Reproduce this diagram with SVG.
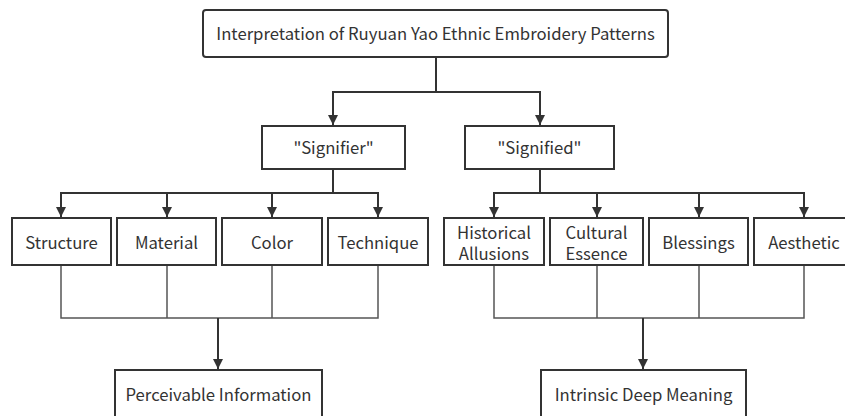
<svg xmlns="http://www.w3.org/2000/svg" width="845" height="416" viewBox="0 0 845 416">
<style>
.box{fill:#fff;stroke:#333;stroke-width:2}
.t{font-family:"Noto Sans CJK SC","Noto Sans",sans-serif;font-size:16.7px;fill:#333;text-anchor:middle;dominant-baseline:central}
.c{fill:none;stroke:#333;stroke-width:2}
.m{fill:none;stroke:#555;stroke-width:1.5}
</style>
<defs>
<marker id="ah" viewBox="0 0 10 10" refX="10" refY="5" markerWidth="5" markerHeight="5" markerUnits="strokeWidth" orient="auto">
<path d="M0,0 L10,5 L0,10 z" fill="#333"/>
</marker>
</defs>
<rect width="845" height="416" fill="#fff"/>
<g id="connectors">
<path class="c" d="M436,57 V92 H333 V125" marker-end="url(#ah)"/>
<path class="c" d="M436,92 H540 V125" marker-end="url(#ah)"/>
<path class="c" d="M333,169 V193 H61 V217" marker-end="url(#ah)"/>
<path class="c" d="M167,193 V217" marker-end="url(#ah)"/>
<path class="c" d="M272,193 V217" marker-end="url(#ah)"/>
<path class="c" d="M333,193 H378 V217" marker-end="url(#ah)"/>
<path class="c" d="M540,169 V193 H494 V217" marker-end="url(#ah)"/>
<path class="c" d="M597,193 V217" marker-end="url(#ah)"/>
<path class="c" d="M540,193 H804 V217" marker-end="url(#ah)"/>
<path class="c" d="M699,193 V217" marker-end="url(#ah)"/>
<path class="m" d="M61,265 V318 H378 V265 M167,265 V318 M272,265 V318"/>
<path class="c" d="M218,318 V369" marker-end="url(#ah)"/>
<path class="m" d="M494,265 V318 H804 V265 M597,265 V318 M699,265 V318"/>
<path class="c" d="M643,318 V369" marker-end="url(#ah)"/>
</g>
<g id="root"><rect class="box" x="203" y="10" width="465" height="47" rx="3"/><text class="t" x="435.5" y="33">Interpretation of Ruyuan Yao Ethnic Embroidery Patterns</text></g>
<g id="signifier"><rect class="box" x="262" y="126" width="143" height="43"/><text class="t" x="333.5" y="147">"Signifier"</text></g>
<g id="signified"><rect class="box" x="465" y="126" width="149" height="43"/><text class="t" x="539.5" y="147">"Signified"</text></g>
<g id="structure"><rect class="box" x="12" y="218" width="99" height="47"/><text class="t" x="61.5" y="242">Structure</text></g>
<g id="material"><rect class="box" x="117" y="218" width="99" height="47"/><text class="t" x="166.5" y="242">Material</text></g>
<g id="color"><rect class="box" x="222" y="218" width="100" height="47"/><text class="t" x="272" y="242">Color</text></g>
<g id="technique"><rect class="box" x="328" y="218" width="100" height="47"/><text class="t" x="378" y="242">Technique</text></g>
<g id="historical"><rect class="box" x="444" y="218" width="100" height="47"/><text class="t" x="494" y="231.5">Historical<tspan x="494" dy="21">Allusions</tspan></text></g>
<g id="cultural"><rect class="box" x="550" y="218" width="93" height="47"/><text class="t" x="596.5" y="231.5">Cultural<tspan x="596.5" dy="21">Essence</tspan></text></g>
<g id="blessings"><rect class="box" x="649" y="218" width="99" height="47"/><text class="t" x="698.5" y="242">Blessings</text></g>
<g id="aesthetic"><rect class="box" x="754" y="218" width="100" height="47"/><text class="t" x="804" y="242">Aesthetic</text></g>
<g id="perceivable"><rect class="box" x="115" y="370" width="207" height="60"/><text class="t" x="218.5" y="394">Perceivable Information</text></g>
<g id="intrinsic"><rect class="box" x="541" y="370" width="205" height="60"/><text class="t" x="643.5" y="394">Intrinsic Deep Meaning</text></g>
</svg>
